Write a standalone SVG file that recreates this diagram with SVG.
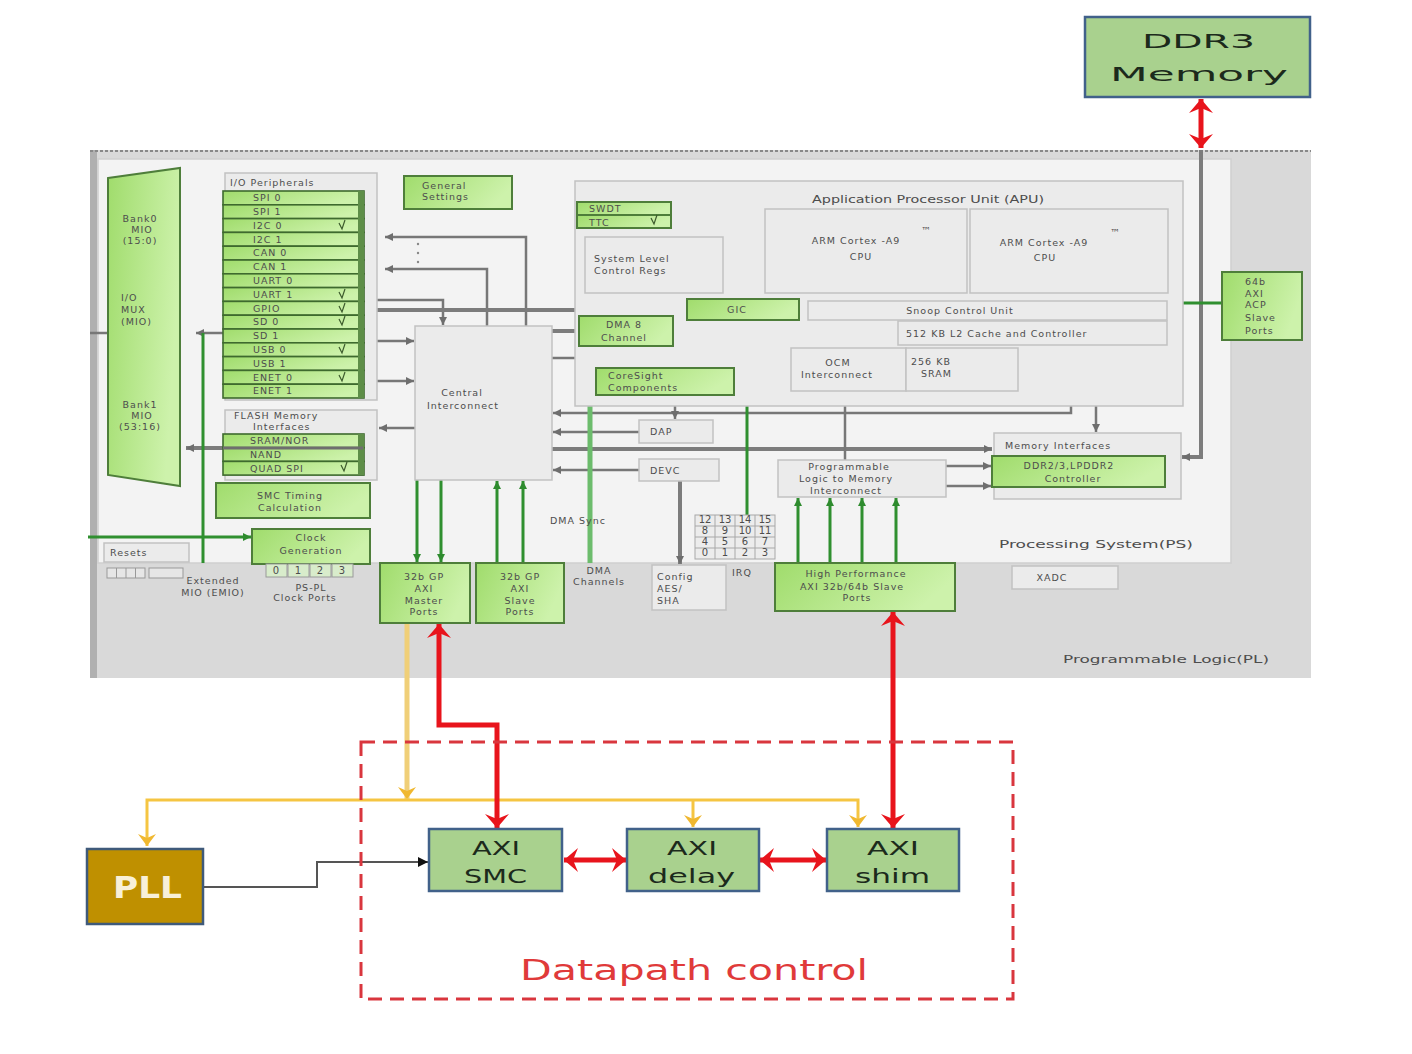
<svg xmlns="http://www.w3.org/2000/svg" width="1412" height="1054" viewBox="0 0 1412 1054">
<defs>
<linearGradient id="gG" x1="0" y1="0" x2="1" y2="0.3">
<stop offset="0" stop-color="#a0dc6c"/><stop offset="1" stop-color="#cdf2ab"/>
</linearGradient>
<marker id="aGray" viewBox="0 0 8 8" refX="8" refY="4" markerWidth="8" markerHeight="8" markerUnits="userSpaceOnUse" orient="auto-start-reverse"><path d="M0,0 L8,4 L0,8 z" fill="#6e6e6e"/></marker>
<marker id="aGreen" viewBox="0 0 8 8" refX="8" refY="4" markerWidth="8" markerHeight="8" markerUnits="userSpaceOnUse" orient="auto-start-reverse"><path d="M0,0 L8,4 L0,8 z" fill="#2e8b2e"/></marker>
<marker id="aRed" viewBox="0 0 14 24" refX="14" refY="12" markerWidth="14" markerHeight="24" markerUnits="userSpaceOnUse" orient="auto-start-reverse"><path d="M0,0 L14,12 L0,24 L5,12 z" fill="#e8141c"/></marker>
<marker id="aYel" viewBox="0 0 12 18" refX="12" refY="9" markerWidth="12" markerHeight="18" markerUnits="userSpaceOnUse" orient="auto-start-reverse"><path d="M0,0 L12,9 L0,18 L4,9 z" fill="#f0b830"/></marker>
<marker id="aBlk" viewBox="0 0 10 10" refX="10" refY="5" markerWidth="12" markerHeight="10" markerUnits="userSpaceOnUse" orient="auto"><path d="M0,0 L10,5 L0,10 z" fill="#111"/></marker>
</defs>
<style>
.t{font-family:"DejaVu Sans","Liberation Sans",Arial,sans-serif;fill:#4d4d4d;font-size:10px}
.s{font-size:9.5px;letter-spacing:1px}
.m{text-anchor:middle}
.g{fill:url(#gG);stroke:#4e7e3a;stroke-width:2}
.row{fill:url(#gG);stroke:#3e6a2e;stroke-width:1.6}
.b{fill:#ebebeb;stroke:#c2c2c2;stroke-width:1.5}
.c{fill:none;stroke:#777;stroke-width:2.5}
.cb{fill:none;stroke:#7c7c7c;stroke-width:4}
.cg{fill:none;stroke:#2f8f2f;stroke-width:3}
.cr{fill:none;stroke:#e8141c;stroke-width:5}
.cy{fill:none;stroke:#f5c542;stroke-width:3}
.nd{fill:#a9d18e;stroke:#41618a;stroke-width:2.5}
.big{font-family:"DejaVu Sans",Verdana,sans-serif;fill:#1c2a1c;font-size:20px}
.mk{fill:none;stroke:#3c5a2c;stroke-width:1.2}
</style>
<rect width="1412" height="1054" fill="#ffffff"/>

<g id="pl">
<rect x="90" y="150" width="1221" height="528" fill="#d9d9d9"/>
<rect x="90" y="150" width="7" height="528" fill="#b0b0b0"/>
<line x1="90" y1="151" x2="1311" y2="151" stroke="#888" stroke-width="2" stroke-dasharray="3 2"/>
<text class="t" x="1063" y="663" font-size="13" textLength="206" lengthAdjust="spacingAndGlyphs">Programmable Logic(PL)</text>
</g>
<g id="ps">
<rect x="98" y="159" width="1133" height="404" fill="#f3f3f3" stroke="#cfcfcf" stroke-width="1.5"/>
<text class="t" x="999" y="548" font-size="14" textLength="194" lengthAdjust="spacingAndGlyphs">Processing System(PS)</text>
</g>

<g id="connectors">
<line class="c" x1="90" y1="333" x2="108" y2="333"/>
<line class="c" x1="225" y1="333" x2="196" y2="333" marker-end="url(#aGray)"/>
<line class="cb" x1="223" y1="448" x2="186" y2="448" marker-end="url(#aGray)"/>
<path class="c" d="M526,326 V237 H385" marker-end="url(#aGray)"/>
<path class="c" d="M487,326 V269 H385" marker-end="url(#aGray)"/>
<g fill="#888"><circle cx="418" cy="244" r="1.2"/><circle cx="418" cy="253" r="1.2"/><circle cx="418" cy="262" r="1.2"/></g>
<line class="c" x1="377" y1="341" x2="414" y2="341" marker-end="url(#aGray)"/>
<line class="c" x1="377" y1="381" x2="414" y2="381" marker-end="url(#aGray)"/>
<line class="c" x1="415" y1="428" x2="379" y2="428" marker-end="url(#aGray)"/>
<path class="c" d="M377,300 H443 V325" marker-end="url(#aGray)"/>
<line class="cb" x1="377" y1="310" x2="687" y2="310"/>
<line class="cb" x1="552" y1="331" x2="579" y2="331"/>
<line class="c" x1="552" y1="358" x2="790" y2="358" marker-end="url(#aGray)"/>
<path class="c" d="M1071,345 V413 H553" marker-end="url(#aGray)"/>
<line class="c" x1="1096" y1="345" x2="1096" y2="432" marker-end="url(#aGray)"/>
<line class="c" x1="639" y1="432" x2="553" y2="432" marker-end="url(#aGray)"/>
<line class="c" x1="675" y1="396" x2="675" y2="419" marker-start="url(#aGray)" marker-end="url(#aGray)"/>
<line class="cb" x1="552" y1="449" x2="992" y2="449" marker-end="url(#aGray)"/>
<line class="c" x1="639" y1="470" x2="553" y2="470" marker-end="url(#aGray)"/>
<line class="cb" x1="680" y1="481" x2="680" y2="564" marker-end="url(#aGray)"/>
<line class="c" x1="845" y1="320" x2="845" y2="347" marker-end="url(#aGray)"/>
<line class="c" x1="845" y1="392" x2="845" y2="460" marker-start="url(#aGray)"/>
<line class="c" x1="946" y1="466" x2="991" y2="466" marker-end="url(#aGray)"/>
<line class="c" x1="946" y1="486" x2="991" y2="486" marker-end="url(#aGray)"/>
<path class="cb" d="M1201,150 V457 H1182" marker-end="url(#aGray)"/>
<line class="cg" x1="1182" y1="303" x2="1222" y2="303"/>
<line class="cg" x1="88" y1="537" x2="251" y2="537" marker-end="url(#aGreen)"/>
<line class="cg" x1="203" y1="333" x2="203" y2="563"/>
<line x1="590" y1="346" x2="590" y2="563" stroke="#6cbc6c" stroke-width="5"/>
<line class="cg" x1="747" y1="320" x2="747" y2="515"/>
<line class="cg" x1="417" y1="480" x2="417" y2="562" marker-end="url(#aGreen)"/>
<line class="cg" x1="441" y1="480" x2="441" y2="562" marker-end="url(#aGreen)"/>
<line class="cg" x1="497" y1="563" x2="497" y2="481" marker-end="url(#aGreen)"/>
<line class="cg" x1="523" y1="563" x2="523" y2="481" marker-end="url(#aGreen)"/>
<line class="cg" x1="798" y1="563" x2="798" y2="498" marker-end="url(#aGreen)"/>
<line class="cg" x1="830" y1="563" x2="830" y2="498" stroke-width="5" marker-end="url(#aGreen)"/>
<line class="cg" x1="862" y1="563" x2="862" y2="498" marker-end="url(#aGreen)"/>
<line class="cg" x1="896" y1="563" x2="896" y2="498" stroke-width="2" marker-end="url(#aGreen)"/>

<line class="cr" x1="1201" y1="99" x2="1201" y2="148" marker-start="url(#aRed)" marker-end="url(#aRed)"/>
<line x1="407" y1="623" x2="407" y2="799" stroke="#f0cf78" stroke-width="5" marker-end="url(#aYel)"/>
<polyline class="cy" points="147,846 147,800 858,800 858,827" marker-start="url(#aYel)" marker-end="url(#aYel)"/>
<line class="cy" x1="693" y1="800" x2="693" y2="827" marker-end="url(#aYel)"/>
<polyline class="cr" points="439,624 439,725 497,725 497,828" marker-start="url(#aRed)" marker-end="url(#aRed)"/>
<line class="cr" x1="893" y1="612" x2="893" y2="828" marker-start="url(#aRed)" marker-end="url(#aRed)"/>
<line class="cr" x1="564" y1="860" x2="626" y2="860" marker-start="url(#aRed)" marker-end="url(#aRed)"/>
<line class="cr" x1="760" y1="860" x2="826" y2="860" marker-start="url(#aRed)" marker-end="url(#aRed)"/>
<polyline points="204,887 317,887 317,862 428,862" fill="none" stroke="#555" stroke-width="2" marker-end="url(#aBlk)"/>
</g>

<g id="ddr3-memory">
<rect x="1085" y="17" width="225" height="80" class="nd"/>
<text class="big" x="1142" y="48" font-size="28" textLength="113" lengthAdjust="spacingAndGlyphs">DDR3</text>
<text class="big" x="1110" y="81" font-size="28" textLength="178" lengthAdjust="spacingAndGlyphs">Memory</text>
</g>

<g id="mio">
<polygon points="108,178 180,168 180,486 108,475" class="g"/>
<text class="t s m" x="140" y="222">Bank0</text><text class="t s m" x="142" y="233">MIO</text><text class="t s m" x="140" y="244">(15:0)</text>
<text class="t s" x="121" y="301">I/O</text><text class="t s" x="121" y="313">MUX</text><text class="t s" x="121" y="325">(MIO)</text>
<text class="t s m" x="140" y="408">Bank1</text><text class="t s m" x="142" y="419">MIO</text><text class="t s m" x="140" y="430">(53:16)</text>
</g>

<g id="io-peripherals">
<rect x="225" y="173" width="152" height="227" class="b"/>
<text class="t s" x="230" y="186">I/O Peripherals</text>
<rect x="223" y="191" width="141" height="13.8" class="row"/><text class="t s" x="253" y="201">SPI 0</text>
<rect x="223" y="204.8" width="141" height="13.8" class="row"/><text class="t s" x="253" y="215">SPI 1</text>
<rect x="223" y="218.6" width="141" height="13.8" class="row"/><text class="t s" x="253" y="229">I2C 0</text>
<rect x="223" y="232.4" width="141" height="13.8" class="row"/><text class="t s" x="253" y="243">I2C 1</text>
<rect x="223" y="246.2" width="141" height="13.8" class="row"/><text class="t s" x="253" y="256">CAN 0</text>
<rect x="223" y="260" width="141" height="13.8" class="row"/><text class="t s" x="253" y="270">CAN 1</text>
<rect x="223" y="273.8" width="141" height="13.8" class="row"/><text class="t s" x="253" y="284">UART 0</text>
<rect x="223" y="287.6" width="141" height="13.8" class="row"/><text class="t s" x="253" y="298">UART 1</text>
<rect x="223" y="301.4" width="141" height="13.8" class="row"/><text class="t s" x="253" y="312">GPIO</text>
<rect x="223" y="315.2" width="141" height="13.8" class="row"/><text class="t s" x="253" y="325">SD 0</text>
<rect x="223" y="329" width="141" height="13.8" class="row"/><text class="t s" x="253" y="339">SD 1</text>
<rect x="223" y="342.8" width="141" height="13.8" class="row"/><text class="t s" x="253" y="353">USB 0</text>
<rect x="223" y="356.6" width="141" height="13.8" class="row"/><text class="t s" x="253" y="367">USB 1</text>
<rect x="223" y="370.4" width="141" height="13.8" class="row"/><text class="t s" x="253" y="381">ENET 0</text>
<rect x="223" y="384.2" width="141" height="13.8" class="row"/><text class="t s" x="253" y="394">ENET 1</text>
<rect x="358" y="191" width="6" height="207" fill="#5e8e48"/>
<path class="mk" d="M339,223 l3,6 l3,-9 M339,292 l3,6 l3,-9 M339,306 l3,6 l3,-9 M339,319 l3,6 l3,-9 M339,347 l3,6 l3,-9 M339,375 l3,6 l3,-9"/>
</g>

<g id="flash-memory-interfaces">
<rect x="225" y="410" width="152" height="70" class="b"/>
<text class="t s" x="234" y="419">FLASH Memory</text>
<text class="t s" x="253" y="430">Interfaces</text>
<rect x="223" y="434" width="141" height="13.7" class="row"/><text class="t s" x="250" y="444">SRAM/NOR</text>
<rect x="223" y="447.7" width="141" height="13.7" class="row"/><text class="t s" x="250" y="458">NAND</text>
<rect x="223" y="461.4" width="141" height="13.7" class="row"/><text class="t s" x="250" y="472">QUAD SPI</text>
<rect x="358" y="434" width="6" height="41" fill="#5e8e48"/>
<line x1="223" y1="448" x2="363" y2="448" stroke="#6e6e6e" stroke-width="3"/>
<path class="mk" d="M341,465 l3,6 l3,-9"/>
</g>

<g id="smc-timing"><rect x="216" y="483" width="154" height="35" class="g"/>
<text class="t s m" x="290" y="499">SMC Timing</text><text class="t s m" x="290" y="511">Calculation</text></g>

<g id="clock-generation"><rect x="252" y="529" width="118" height="35" class="g"/>
<text class="t s m" x="311" y="541">Clock</text><text class="t s m" x="311" y="554">Generation</text>
<rect x="266" y="564" width="21" height="13" fill="#d8eccb" stroke="#9a9a9a"/><text class="t m" x="276" y="574" font-size="8">0</text>
<rect x="288" y="564" width="21" height="13" fill="#d8eccb" stroke="#9a9a9a"/><text class="t m" x="298" y="574" font-size="8">1</text>
<rect x="310" y="564" width="21" height="13" fill="#d8eccb" stroke="#9a9a9a"/><text class="t m" x="320" y="574" font-size="8">2</text>
<rect x="332" y="564" width="21" height="13" fill="#d8eccb" stroke="#9a9a9a"/><text class="t m" x="342" y="574" font-size="8">3</text>
<text class="t s m" x="311" y="591">PS-PL</text><text class="t s m" x="305" y="601">Clock Ports</text>
</g>

<g id="resets"><rect x="104" y="543" width="85" height="19" class="b"/>
<text class="t s" x="110" y="556">Resets</text>
<rect x="107" y="568" width="38" height="10" fill="#e6e6e6" stroke="#999"/>
<path d="M116.5,568 v10 M126,568 v10 M135.5,568 v10 M158,568 v10 M166.5,568 v10 M175,568 v10" stroke="#999"/>
<rect x="149" y="568" width="34" height="10" fill="#e6e6e6" stroke="#999"/>
<text class="t s m" x="213" y="584">Extended</text><text class="t s m" x="213" y="596">MIO (EMIO)</text>
</g>

<g id="general-settings"><rect x="404" y="176" width="108" height="33" class="g"/>
<text class="t s" x="422" y="189">General</text><text class="t s" x="422" y="200">Settings</text></g>

<g id="central-interconnect"><rect x="415" y="326" width="137" height="154" class="b"/>
<text class="t s m" x="462" y="396">Central</text><text class="t s m" x="463" y="409">Interconnect</text></g>

<g id="apu"><rect x="575" y="181" width="608" height="225" class="b"/>
<text class="t" x="812" y="203" textLength="232" lengthAdjust="spacingAndGlyphs">Application Processor Unit (APU)</text></g>

<g id="swdt-ttc"><rect x="577" y="202" width="94" height="13" class="g"/><rect x="577" y="215" width="94" height="13" class="g"/>
<text class="t s" x="589" y="212">SWDT</text><text class="t s" x="589" y="226">TTC</text>
<path class="mk" d="M651,218 l3,6 l3,-9"/></g>

<g id="system-level-control-regs"><rect x="585" y="237" width="138" height="56" class="b"/>
<text class="t s" x="594" y="262">System Level</text><text class="t s" x="594" y="274">Control Regs</text></g>

<g id="cpu0"><rect x="765" y="209" width="202" height="84" class="b"/>
<text class="t s m" x="856" y="244">ARM Cortex -A9</text><text class="t" x="921" y="234" font-size="7">™</text>
<text class="t s m" x="861" y="260">CPU</text></g>
<g id="cpu1"><rect x="970" y="209" width="198" height="84" class="b"/>
<text class="t s m" x="1044" y="246">ARM Cortex -A9</text><text class="t" x="1110" y="236" font-size="7">™</text>
<text class="t s m" x="1045" y="261">CPU</text></g>

<g id="snoop-control-unit"><rect x="808" y="301" width="359" height="19" class="b"/>
<text class="t s m" x="960" y="314">Snoop Control Unit</text></g>
<g id="l2-cache"><rect x="898" y="321" width="269" height="24" class="b"/>
<text class="t s" x="906" y="337">512 KB L2 Cache and Controller</text></g>
<g id="gic"><rect x="687" y="299" width="112" height="21" class="g"/><text class="t s m" x="737" y="313">GIC</text></g>
<g id="dma8"><rect x="579" y="316" width="94" height="30" class="g"/>
<text class="t s m" x="624" y="328">DMA 8</text><text class="t s m" x="624" y="341">Channel</text></g>
<g id="coresight"><rect x="596" y="368" width="138" height="27" class="g"/>
<text class="t s" x="608" y="379">CoreSight</text><text class="t s" x="608" y="391">Components</text></g>
<g id="ocm-interconnect"><rect x="791" y="348" width="115" height="43" class="b"/>
<text class="t s m" x="838" y="366">OCM</text><text class="t s m" x="837" y="378">Interconnect</text></g>
<g id="sram"><rect x="906" y="348" width="112" height="43" class="b"/>
<text class="t s" x="911" y="365">256 KB</text><text class="t s" x="921" y="377">SRAM</text></g>
<g id="dap"><rect x="639" y="420" width="74" height="23" class="b"/><text class="t s" x="650" y="435">DAP</text></g>
<g id="devc"><rect x="639" y="459" width="80" height="22" class="b"/><text class="t s" x="650" y="474">DEVC</text></g>
<g id="pl-memory-interconnect"><rect x="778" y="460" width="168" height="37" class="b"/>
<text class="t s m" x="849" y="470">Programmable</text><text class="t s m" x="846" y="482">Logic to Memory</text><text class="t s m" x="846" y="494">Interconnect</text></g>
<g id="memory-interfaces"><rect x="994" y="433" width="187" height="66" class="b"/>
<text class="t s" x="1005" y="449">Memory Interfaces</text>
<rect x="992" y="456" width="173" height="31" class="g"/>
<text class="t s m" x="1069" y="469">DDR2/3,LPDDR2</text><text class="t s m" x="1073" y="482">Controller</text></g>
<g id="acp"><rect x="1222" y="272" width="80" height="68" class="g"/>
<text class="t s" x="1245" y="285">64b</text><text class="t s" x="1245" y="297">AXI</text><text class="t s" x="1245" y="308">ACP</text><text class="t s" x="1245" y="321">Slave</text><text class="t s" x="1245" y="334">Ports</text></g>

<g id="gp-master"><rect x="380" y="563" width="90" height="60" class="g"/>
<text class="t s m" x="424" y="580">32b GP</text><text class="t s m" x="424" y="592">AXI</text><text class="t s m" x="424" y="604">Master</text><text class="t s m" x="424" y="615">Ports</text></g>
<g id="gp-slave"><rect x="476" y="563" width="88" height="60" class="g"/>
<text class="t s m" x="520" y="580">32b GP</text><text class="t s m" x="520" y="592">AXI</text><text class="t s m" x="520" y="604">Slave</text><text class="t s m" x="520" y="615">Ports</text></g>
<g id="dma-channels"><text class="t s m" x="599" y="574">DMA</text><text class="t s m" x="599" y="585">Channels</text>
<text class="t s" x="550" y="524">DMA Sync</text></g>
<g id="config-aes-sha"><rect x="652" y="565" width="74" height="45" class="b"/>
<text class="t s" x="657" y="580">Config</text><text class="t s" x="657" y="592">AES/</text><text class="t s" x="657" y="604">SHA</text></g>
<g id="irq"><rect x="695" y="515" width="80" height="44" fill="#ececec" stroke="#a8a8a8"/>
<path d="M715,515 v44 M735,515 v44 M755,515 v44 M695,526 h80 M695,537 h80 M695,548 h80" stroke="#a8a8a8"/>
<g class="t m" font-size="7">
<text x="705" y="523">12</text><text x="725" y="523">13</text><text x="745" y="523">14</text><text x="765" y="523">15</text>
<text x="705" y="534">8</text><text x="725" y="534">9</text><text x="745" y="534">10</text><text x="765" y="534">11</text>
<text x="705" y="545">4</text><text x="725" y="545">5</text><text x="745" y="545">6</text><text x="765" y="545">7</text>
<text x="705" y="556">0</text><text x="725" y="556">1</text><text x="745" y="556">2</text><text x="765" y="556">3</text>
</g>
<text class="t s" x="732" y="576">IRQ</text></g>
<g id="hp-ports"><rect x="775" y="563" width="180" height="48" class="g"/>
<text class="t s m" x="856" y="577">High Performance</text><text class="t s m" x="852" y="590">AXI 32b/64b Slave</text><text class="t s m" x="857" y="601">Ports</text></g>
<g id="xadc"><rect x="1012" y="566" width="106" height="23" class="b"/><text class="t s m" x="1052" y="581">XADC</text></g>

<g id="datapath-control">
<rect x="361" y="742" width="652" height="257" fill="none" stroke="#d9363e" stroke-width="3" stroke-dasharray="14 8"/>
<text x="520" y="980" font-family="DejaVu Sans, Verdana, sans-serif" font-size="28" fill="#e03a3a" textLength="348" lengthAdjust="spacingAndGlyphs">Datapath control</text>
</g>
<g id="pll"><rect x="87" y="849" width="116" height="75" fill="#bf9000" stroke="#3f5a7a" stroke-width="2.5"/>
<text x="113" y="898" font-family="DejaVu Sans, Verdana, sans-serif" font-weight="bold" font-size="30" fill="#f8f0d8" textLength="69" lengthAdjust="spacingAndGlyphs">PLL</text></g>
<g id="axi-smc"><rect x="429" y="829" width="133" height="62" class="nd"/>
<text class="big" x="472" y="855" textLength="48" lengthAdjust="spacingAndGlyphs">AXI</text>
<text class="big" x="464" y="883" textLength="63" lengthAdjust="spacingAndGlyphs">SMC</text></g>
<g id="axi-delay"><rect x="627" y="829" width="132" height="62" class="nd"/>
<text class="big" x="667" y="855" textLength="50" lengthAdjust="spacingAndGlyphs">AXI</text>
<text class="big" x="648" y="883" textLength="87" lengthAdjust="spacingAndGlyphs">delay</text></g>
<g id="axi-shim"><rect x="827" y="829" width="132" height="62" class="nd"/>
<text class="big" x="867" y="855" textLength="52" lengthAdjust="spacingAndGlyphs">AXI</text>
<text class="big" x="855" y="883" textLength="75" lengthAdjust="spacingAndGlyphs">shim</text></g>
</svg>
